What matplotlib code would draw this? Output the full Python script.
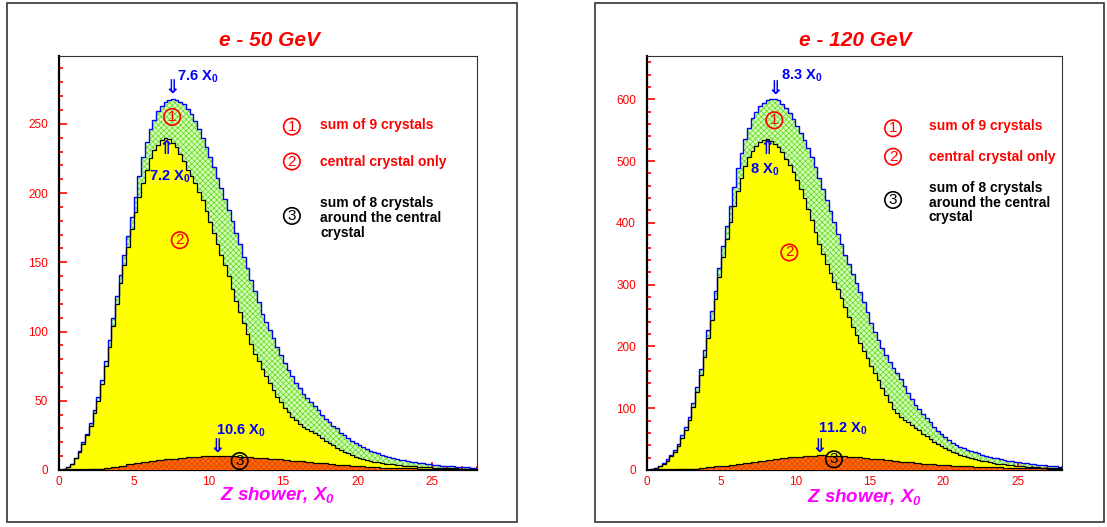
import numpy as np
import matplotlib.pyplot as plt
from matplotlib.patches import Rectangle
from matplotlib.ticker import MultipleLocator

plt.rcParams['font.family'] = ['Liberation Sans', 'DejaVu Sans']
plt.rcParams['mathtext.fontset'] = 'custom'
plt.rcParams['mathtext.bf'] = 'Liberation Sans:bold'
plt.rcParams['mathtext.bfit'] = 'Liberation Sans:italic:bold'
plt.rcParams['hatch.linewidth'] = 0.5

# bin edges (Z shower in X0)
edges_fine = np.arange(0, 28.001, 0.25)
edges_coarse = np.arange(0, 28.001, 0.5)

# ---- e- 50 GeV ----
e50_sum9 = [0.2, 0.8, 2, 4.5, 9, 14, 20, 26, 34, 43, 53, 65, 79, 94, 110, 126,
            141, 155, 169, 183, 197, 212, 226, 237, 246, 253, 259, 263, 266, 267.5, 268, 267.5,
            266, 264, 261, 257, 252, 246, 240, 233, 226, 219, 211, 204, 196, 188, 180, 171,
            163, 154, 146, 137, 129, 121, 113, 107, 101, 95, 89, 83, 77, 72, 68, 63,
            59, 55, 52, 49, 46, 43, 40, 37, 35, 32, 30, 27, 25, 23, 21, 19.5,
            18, 16.5, 15, 14, 13, 12, 11, 10, 9.5, 8.8, 8.2, 7.5, 7, 6.5, 6, 5.5,
            5, 4.7, 4.3, 4, 3.7, 3.4, 3.2, 3, 2.8, 2.6, 2.4, 2.2, 2, 1.9, 1.7, 1.6]
e50_central = [0.2, 0.8, 2, 4.3, 8.5, 13, 19, 25, 32, 41, 50, 62, 75, 89, 104, 120,
               135, 148, 161, 174, 186, 197, 207, 217, 225, 231, 235, 238, 239.5, 239, 236.5, 233,
               228, 223, 217, 212, 207, 201, 195, 187, 179, 171, 163, 155, 148, 140, 131, 122,
               114, 106, 98, 91, 84, 79, 73, 68, 63, 58, 53, 49, 45, 42, 38, 36,
               33, 31, 29.5, 28, 26.5, 25, 23, 21, 19.5, 18, 16, 14.5, 13, 12, 10.5, 9.5,
               8.7, 8, 7.2, 6.6, 6, 5.5, 5, 4.6, 4.3, 4, 3.7, 3.4, 3.2, 3, 2.8, 2.6,
               2.4, 2.2, 2.0, 1.9, 1.8, 1.7, 1.5, 1.4, 1.3, 1.2, 1.1, 1.0, 1.0, 0.9, 0.9, 0.8]
e50_ring8 = [0, 0.05, 0.15, 0.35, 0.6, 1.0, 1.5, 2.3, 3.1, 4.1, 5.0, 5.9, 6.6, 7.2,
             7.8, 8.3, 8.8, 9.2, 9.5, 9.8, 10.0, 10.1, 10.1, 9.9, 9.7, 9.4, 9.0, 8.6,
             8.1, 7.7, 7.2, 6.7, 6.2, 5.7, 5.2, 4.7, 4.2, 3.8, 3.4, 3.0, 2.6, 2.3,
             2.0, 1.8, 1.6, 1.4, 1.2, 1.1, 0.9, 0.8, 0.7, 0.6, 0.5, 0.45, 0.4, 0.35]

# ---- e- 120 GeV ----
e120_sum9 = [0.5, 2, 4, 7, 11, 17, 24, 32, 42, 56, 70, 86, 108, 134, 163, 194,
             226, 257, 290, 327, 362, 395, 427, 458, 488, 513, 535, 554, 569, 580, 589, 594,
             598, 600.5, 601, 598.5, 593, 586, 578, 568, 557, 546, 534, 521, 506, 490, 473, 455,
             437, 419, 401, 382, 365, 348, 333, 318, 303, 288, 272, 255, 238, 223, 210, 198,
             186, 175, 165, 157, 147, 136, 125, 115, 106, 99, 91, 84, 77, 70, 63, 58,
             53, 48, 44, 41, 38, 35, 33, 31, 29, 27, 25, 23, 21.5, 20, 19, 17.5,
             16.5, 15, 14, 13, 12.2, 11.4, 10.6, 9.9, 9.2, 8.6, 8, 7.5, 7, 6.5, 6, 5.5]
e120_central = [0.5, 1.8, 3.5, 6.2, 10, 15, 22, 29, 39, 52, 65, 81, 102, 126, 154, 183,
                213, 243, 276, 312, 345, 374, 402, 428, 451, 473, 492, 506, 517, 525, 531, 534,
                535, 533, 528, 522, 514, 504, 493, 482, 469, 455, 440, 422, 404, 385, 366, 349,
                333, 319, 305, 293, 279, 263, 247, 232, 218, 205, 192, 181, 169, 157, 145, 133,
                121, 110, 99, 92, 86, 81, 77, 73, 68, 64, 59, 54.5, 50, 46, 42, 39,
                35.5, 32.5, 29.5, 27, 25, 23, 21, 19.5, 18, 16.5, 15, 14, 12.5, 11.5, 10.5, 9.8,
                9, 8.4, 7.7, 7.1, 6.5, 6, 5.6, 5.1, 4.7, 4.4, 4, 3.7, 3.4, 3.1, 2.9, 2.7]
e120_ring8 = [0.05, 0.2, 0.4, 0.8, 1.2, 1.7, 2.4, 3.4, 4.6, 5.9, 7.2, 8.7, 10.2, 11.7,
              13.2, 14.7, 16.2, 17.7, 19.1, 20.4, 21.5, 22.5, 23.2, 23.5, 23.4, 22.9, 22.2, 21.4,
              20.5, 19.5, 18.4, 17.1, 15.8, 14.6, 13.5, 12.5, 11.5, 10.5, 9.5, 8.6, 7.8, 7.1,
              6.5, 5.9, 5.4, 4.9, 4.5, 4.2, 3.9, 3.6, 3.3, 3.0, 2.7, 2.5, 2.3, 2.1]

legend_texts = ['sum of 9 crystals', 'central crystal only',
                'sum of 8 crystals\naround the central\ncrystal']

W, H = 1107, 527
fig = plt.figure(figsize=(W / 100, H / 100), dpi=100)

# outer frames of the two pads
for x0, x1 in [(7, 517), (595, 1104)]:
    fig.add_artist(Rectangle((x0 / W, 5 / H), (x1 - x0) / W, 519 / H, transform=fig.transFigure,
                             fill=False, edgecolor='#333333', linewidth=1.2))


def circ(ax, x, y, n, color):
    ax.text(x, y, n, color=color, fontsize=11, ha='center', va='center',
            bbox=dict(boxstyle='circle,pad=0.08', fc='none', ec=color, lw=1.2), zorder=10)


def panel(rect, sum9, central, ring8, ymax, ymin_step, ymaj_step):
    ax = fig.add_axes(rect)
    ax.stairs(sum9, edges_fine, baseline=0, fill=True, facecolor='#d4ffb4',
              edgecolor='#5fd620', hatch='xxxxxx', linewidth=0, zorder=1)
    ax.stairs(central, edges_fine, baseline=0, fill=True, facecolor='#ffff00',
              edgecolor='#ffff00', linewidth=0, zorder=2)
    ax.stairs(ring8, edges_coarse, baseline=0, fill=True, facecolor='#ff6a00',
              edgecolor='#e04000', hatch='xxxxxx', linewidth=0, zorder=3)
    ax.stairs(sum9, edges_fine, color='#0000ff', linewidth=1.0, zorder=4)
    ax.stairs(central, edges_fine, color='black', linewidth=0.9, zorder=5)
    ax.stairs(ring8, edges_coarse, color='black', linewidth=0.9, zorder=5)
    ax.set_xlim(0, 28)
    ax.set_ylim(0, ymax)
    ax.xaxis.set_major_locator(MultipleLocator(5))
    ax.xaxis.set_minor_locator(MultipleLocator(1))
    ax.yaxis.set_major_locator(MultipleLocator(ymaj_step))
    ax.yaxis.set_minor_locator(MultipleLocator(ymin_step))
    ax.tick_params(which='both', direction='in', color='red', labelcolor='red',
                   labelsize=8.5, width=1.2)
    ax.tick_params(which='major', length=6)
    ax.tick_params(which='minor', length=3)
    ax.tick_params(axis='y', pad=8)
    ax.tick_params(axis='x', pad=4)
    for s in ['left', 'bottom']:
        ax.spines[s].set_linewidth(1.6)
        ax.spines[s].set_color('black')
    for s in ['top', 'right']:
        ax.spines[s].set_linewidth(0.8)
        ax.spines[s].set_color('#333333')
    return ax


def legend(ax, xc, xt, yc, yt):
    cols = ['red', 'red', 'black']
    for i in range(3):
        circ(ax, xc, yc[i], str(i + 1), cols[i])
        ax.text(xt, yt[i], legend_texts[i], color=cols[i], fontsize=10, fontweight='bold',
                ha='left', va='center', linespacing=1.05, zorder=10)


def arrow(ax, x, y, s):
    ax.text(x, y, s, color='#0000ff', fontsize=13.5, fontweight='bold', ha='center', va='center',
            family=['DejaVu Sans'], zorder=10)


def lab(ax, x, y, s, ha='left'):
    ax.text(x, y, s, color='#0000ff', fontsize=10.5, fontweight='bold', ha=ha, va='center', zorder=10)


# left pad: 50 GeV
axL = panel([59 / W, 57 / H, 418 / W, 414 / H], e50_sum9, e50_central, e50_ring8, 299, 10, 50)
arrow(axL, 7.6, 276, '\u21d3')
lab(axL, 7.9, 284, r'7.6 X$_\mathbf{0}$')
circ(axL, 7.58, 255, '1', 'red')
arrow(axL, 7.2, 232, '\u21d1')
lab(axL, 7.45, 212, r'7.2 X$_\mathbf{0}$', ha='center')
circ(axL, 8.09, 166, '2', 'red')
lab(axL, 10.55, 28.4, r'10.6 X$_\mathbf{0}$')
arrow(axL, 10.6, 17, '\u21d3')
circ(axL, 12.1, 6.5, '3', 'black')
legend(axL, 15.6, 17.5, [248, 222.8, 183.5], [249, 222.8, 182])

# right pad: 120 GeV
axR = panel([647 / W, 57 / H, 415 / W, 414 / H], e120_sum9, e120_central, e120_ring8, 670, 20, 100)
arrow(axR, 8.63, 618, '\u21d3')
lab(axR, 9.04, 638, r'8.3 X$_\mathbf{0}$')
circ(axR, 8.59, 566, '1', 'red')
arrow(axR, 8.11, 520, '\u21d1')
lab(axR, 7.94, 486, r'8 X$_\mathbf{0}$', ha='center')
circ(axR, 9.6, 352, '2', 'red')
lab(axR, 11.55, 67.4, r'11.2 X$_\mathbf{0}$')
arrow(axR, 11.62, 38, '\u21d3')
circ(axR, 12.61, 17.3, '3', 'black')
legend(axR, 16.6, 19.0, [553, 507, 437], [557, 507, 432.5])

# titles and axis labels
fig.text(269.5 / W, 1 - 40 / H, 'e - 50 GeV', color='red', fontsize=15, fontweight='bold',
         fontstyle='italic', ha='center', va='center')
fig.text(855.5 / W, 1 - 40 / H, 'e - 120 GeV', color='red', fontsize=15, fontweight='bold',
         fontstyle='italic', ha='center', va='center')
fig.text(278 / W, 1 - 496 / H, r'Z shower, X$_\mathbfit{0}$', color='#ff00ff', fontsize=13.5,
         fontweight='bold', fontstyle='italic', ha='center', va='center')
fig.text(864.5 / W, 1 - 498 / H, r'Z shower, X$_\mathbfit{0}$', color='#ff00ff', fontsize=13.5,
         fontweight='bold', fontstyle='italic', ha='center', va='center')

fig.savefig('out.png', dpi=100)
